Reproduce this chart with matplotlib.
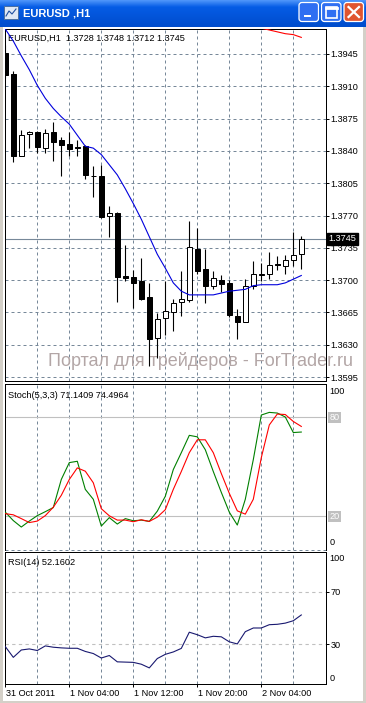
import matplotlib
matplotlib.use('Agg')
import matplotlib.pyplot as plt
import matplotlib.transforms as mtrans
import numpy as np
from matplotlib.patches import Rectangle, FancyBboxPatch

plt.rcParams['font.family'] = ['Liberation Sans', 'DejaVu Sans']

# --- данные EURUSD H1 ---
opens = [1.3946, 1.3923, 1.3835, 1.3858, 1.3860, 1.3843, 1.3860, 1.3852, 1.3847, 1.3844,
         1.3845, 1.3813, 1.3813, 1.3769, 1.3773, 1.3704, 1.3703, 1.3699, 1.3682, 1.3637,
         1.3659, 1.3665, 1.3676, 1.3678, 1.3734, 1.3712, 1.3694, 1.3700, 1.3697, 1.3661,
         1.3655, 1.3694, 1.3706, 1.3707, 1.3717, 1.3715, 1.3722, 1.3728]
highs = [1.3955, 1.3927, 1.3863, 1.3862, 1.3862, 1.3864, 1.3871, 1.3855, 1.3860, 1.3852,
         1.3846, 1.3824, 1.3825, 1.3780, 1.3774, 1.3738, 1.3711, 1.3724, 1.3697, 1.3664,
         1.3699, 1.3680, 1.3710, 1.3764, 1.3756, 1.3734, 1.3710, 1.3706, 1.3700, 1.3669,
         1.3701, 1.3721, 1.3719, 1.3731, 1.3726, 1.3727, 1.3752, 1.3748]
lows = [1.3919, 1.3828, 1.3834, 1.3843, 1.3838, 1.3838, 1.3829, 1.3813, 1.3834, 1.3834,
        1.3810, 1.3790, 1.3767, 1.3747, 1.3676, 1.3699, 1.3670, 1.3678, 1.3607, 1.3616,
        1.3641, 1.3645, 1.3661, 1.3676, 1.3707, 1.3675, 1.3690, 1.3687, 1.3660, 1.3636,
        1.3655, 1.3690, 1.3699, 1.3701, 1.3711, 1.3707, 1.3715, 1.3712]
closes = [1.3922, 1.3834, 1.3857, 1.3861, 1.3844, 1.3859, 1.3850, 1.3846, 1.3842, 1.3843,
          1.3814, 1.3813, 1.3768, 1.3773, 1.3703, 1.3702, 1.3697, 1.3679, 1.3636, 1.3658,
          1.3667, 1.3675, 1.3680, 1.3736, 1.3710, 1.3694, 1.3702, 1.3696, 1.3662, 1.3655,
          1.3694, 1.3707, 1.3707, 1.3716, 1.3716, 1.3722, 1.3727, 1.3745]
ma_blue = [1.3972, 1.3959, 1.3943, 1.3928, 1.3911, 1.3897, 1.3886, 1.3877, 1.3869, 1.3857,
           1.3845, 1.3843, 1.3836, 1.3825, 1.3814, 1.3799, 1.3783, 1.3766, 1.3747, 1.3728,
           1.3713, 1.3697, 1.3688, 1.3684, 1.3684, 1.3684, 1.3684, 1.3686, 1.3688, 1.3689,
           1.3690, 1.3694, 1.3695, 1.3695, 1.3695, 1.3697, 1.3701, 1.3705]
ma_red_idx = [31, 32, 33, 34, 35, 36, 37]
ma_red = [1.3976, 1.3973, 1.3971, 1.3969, 1.3967, 1.3966, 1.3963]

stoch_main = [22.6, 17.5, 13.6, 17.2, 20.5, 22.9, 25.4, 42.4, 52.6, 53.4,
              36.4, 30.4, 14.2, 19.3, 15.4, 18.7, 17.4, 17.8, 17.0, 23.2,
              32.2, 48.4, 58.6, 69.1, 68.2, 60.4, 47.2, 34.6, 22.6, 14.8,
              30.4, 54.4, 81.4, 83.0, 82.6, 80.2, 70.8, 71.1]
stoch_sig = [21.7, 21.0, 18.7, 16.3, 17.2, 20.5, 25.6, 32.8, 42.4, 49.4,
             47.4, 40.4, 24.7, 20.4, 17.8, 17.8, 16.8, 18.0, 17.0, 19.6,
             24.1, 36.4, 47.2, 58.6, 66.4, 66.4, 58.6, 46.0, 34.0, 23.4,
             21.4, 30.4, 55.6, 75.4, 82.0, 81.7, 77.5, 74.5]
rsi = [28.2, 20.0, 25.6, 26.4, 25.2, 28.7, 27.7, 27.2, 26.9, 26.9,
       24.5, 22.9, 19.5, 21.4, 16.6, 16.4, 16.2, 14.8, 12.0, 19.1,
       22.3, 24.1, 26.8, 39.1, 37.2, 34.8, 36.0, 35.6, 31.8, 30.2,
       39.5, 42.3, 42.3, 44.8, 45.1, 46.0, 47.8, 52.2]

price_ticks = [1.3595, 1.3630, 1.3665, 1.3700, 1.3735, 1.3770, 1.3805, 1.3840, 1.3875, 1.3910, 1.3945]
time_pos = [0, 8, 16, 24, 32]
time_labels = ['31 Oct 2011', '1 Nov 04:00', '1 Nov 12:00', '1 Nov 20:00', '2 Nov 04:00']

W, H = 366, 703
fig = plt.figure(figsize=(W / 100, H / 100), dpi=100)
fig.patch.set_facecolor('#d4d0c8')

# фон окна и заголовок
bg = fig.add_axes([0, 0, 1, 1])
top = np.array([0.30, 0.58, 0.98])
mid = np.array([0.02, 0.36, 0.90])
bot = np.array([0.00, 0.30, 0.80])
t = np.linspace(0, 1, 27)[:, None]
grad = np.where(t < 0.25, top + (mid - top) * (t / 0.25), mid + (bot - mid) * ((t - 0.25) / 0.75))
bg.imshow(grad[:, None, :], extent=[0, W, 27, 0], aspect='auto')
bg.add_patch(Rectangle((3, 27), 360, 674, fc='white', ec='none'))
bg.add_patch(Rectangle((4, 6), 14, 13, fc='#dfe8f5', ec='#4a6fa0', lw=0.7))
bg.plot([6, 9, 12, 16], [16, 11, 14, 9], color='#2050a0', lw=0.8)
bg.text(23, 13, 'EURUSD ,H1', color='white', fontsize=8, fontweight='bold', va='center', ha='left')
for x0, fc in [(299, '#2f6ff2'), (321.5, '#2f6ff2'), (344, '#e0552f')]:
    bg.add_patch(FancyBboxPatch((x0, 2.5), 19.5, 19, boxstyle='round,pad=0,rounding_size=3',
                                fc=fc, ec='white', lw=0.9))
bg.add_patch(Rectangle((304, 14.5), 7, 2.5, fc='white', ec='none'))
bg.add_patch(Rectangle((325.5, 6.5), 11, 11, fc='none', ec='white', lw=1.2))
bg.plot([325.5, 336.5], [7.5, 7.5], color='white', lw=2)
bg.plot([348.5, 359], [7, 17], color='white', lw=1.6)
bg.plot([348.5, 359], [17, 7], color='white', lw=1.6)
bg.set_xlim(0, W)
bg.set_ylim(H, 0)
bg.axis('off')


def add_panel(x0, y0, x1, y1):
    a = fig.add_axes([x0 / W, 1 - y1 / H, (x1 - x0) / W, (y1 - y0) / H])
    a.set_xlim(-0.075, 40.05)
    a.set_facecolor('white')
    for s in a.spines.values():
        s.set_color('black')
        s.set_linewidth(0.72)
    for k in range(4, 40, 4):
        a.axvline(k, color='#778899', lw=0.72, dashes=(3, 3), zorder=0.5)
    return a


grid_col = '#778899'
fs = 6.6

# ---- основная панель ----
ax = add_panel(4.7, 29.3, 325.7, 381)
ax.set_ylim(1.359069, 1.397176)
for p in price_ticks:
    ax.axhline(p, color=grid_col, lw=0.72, dashes=(3, 3), zorder=0.5)
ax.axhline(closes[-1], color=grid_col, lw=0.8, zorder=0.6)

x = np.arange(len(opens))
o = np.array(opens)
c = np.array(closes)
bull = c >= o
ax.vlines(x, lows, highs, color='black', lw=0.8, zorder=2)
body_bot = np.minimum(o, c)
body_h = np.maximum(np.abs(c - o), 0.00001)
ax.bar(x[bull], body_h[bull], bottom=body_bot[bull], width=0.6, color='white',
       edgecolor='black', linewidth=0.72, zorder=3)
ax.bar(x[~bull], body_h[~bull], bottom=body_bot[~bull], width=0.6, color='black',
       edgecolor='black', linewidth=0.72, zorder=3)
ax.plot(x, ma_blue, color='#0000dd', lw=0.8, zorder=4)
ax.plot(ma_red_idx, ma_red, color='#ff0000', lw=0.8, zorder=4)

ax.set_xticks([])
ax.yaxis.tick_right()
ax.set_yticks(price_ticks)
ax.set_yticklabels(['%.4f' % p for p in price_ticks])
ax.tick_params(axis='y', direction='out', length=2.2, width=0.72, pad=1.5, labelsize=fs)
bt = mtrans.blended_transform_factory(ax.transAxes, ax.transData)
ax.text(1.0095, closes[-1], '%.4f' % closes[-1], transform=bt, color='white', fontsize=fs,
        va='center', ha='left', clip_on=False, zorder=10,
        bbox=dict(fc='black', ec='black', pad=1.1))
ax.text(0.011, 0.973, 'EURUSD,H1  %.4f %.4f %.4f %.4f' % (opens[-1], highs[-1], lows[-1], closes[-1]),
        transform=ax.transAxes, fontsize=fs, va='center', ha='left')
ax.text((48 - 4.7) / 321, (381 - 361) / 351.7, 'Портал для трейдеров - ForTrader.ru',
        transform=ax.transAxes, color='#b3a6a6', fontsize=13.0, va='center', ha='left',
        clip_on=False, zorder=1)

# ---- стохастик ----
ax2 = add_panel(4.7, 384.3, 325.7, 549.5)
ax2.set_ylim(0, 100)
ax2.spines['bottom'].set_visible(False)
ax2.axhline(0, color=grid_col, lw=0.72, dashes=(3, 3), zorder=0.5, clip_on=False)
for lv in (80, 20):
    ax2.axhline(lv, color='#c0c0c0', lw=0.8, zorder=0.6)
ax2.plot(x, stoch_main, color='#008000', lw=0.8, zorder=3)
ax2.plot(x, stoch_sig, color='#ff0000', lw=0.8, zorder=3)
ax2.set_xticks([])
ax2.set_yticks([])
bt2 = mtrans.blended_transform_factory(ax2.transAxes, ax2.transData)
ax2.text(1.012, 95.5, '100', transform=bt2, fontsize=fs, va='center', ha='left', clip_on=False)
ax2.text(1.012, 4, '0', transform=bt2, fontsize=fs, va='center', ha='left', clip_on=False)
for lv in (80, 20):
    ax2.text(1.012, lv, str(lv), transform=bt2, fontsize=fs, color='white', va='center', ha='left',
             clip_on=False, bbox=dict(fc='#c0c0c0', ec='none', pad=0.8))
ax2.text(0.011, 0.935, 'Stoch(5,3,3) %.4f %.4f' % (71.1409, 74.4964), transform=ax2.transAxes,
         fontsize=fs, va='center', ha='left')

# ---- RSI ----
ax3 = add_panel(4.7, 552, 325.7, 683.7)
ax3.set_ylim(0, 100)
for lv in (70, 30):
    ax3.axhline(lv, color='#c0c0c0', lw=0.8, dashes=(3, 3), zorder=0.6)
ax3.plot(x, rsi, color='#191970', lw=0.8, zorder=3)
ax3.yaxis.tick_right()
ax3.set_yticks([70, 30])
ax3.set_yticklabels(['70', '30'])
ax3.tick_params(axis='y', direction='out', length=2.2, width=0.72, pad=1.5, labelsize=fs)
bt3 = mtrans.blended_transform_factory(ax3.transAxes, ax3.transData)
ax3.text(1.012, 95.4, '100', transform=bt3, fontsize=fs, va='center', ha='left', clip_on=False)
ax3.text(1.012, 4.3, '0', transform=bt3, fontsize=fs, va='center', ha='left', clip_on=False)
ax3.text(0.011, 0.92, 'RSI(14) 52.1602', transform=ax3.transAxes, fontsize=fs, va='center', ha='left')
ax3.set_xticks(time_pos)
ax3.set_xticklabels([])
ax3.tick_params(axis='x', direction='out', length=2.5, width=0.72)
for pos, lab in zip(time_pos, time_labels):
    ax3.text(pos + 0.15, -0.072, lab, transform=mtrans.blended_transform_factory(ax3.transData, ax3.transAxes),
             fontsize=fs, va='center', ha='left', clip_on=False)

fig.savefig('out.png', dpi=100, facecolor=fig.get_facecolor())
